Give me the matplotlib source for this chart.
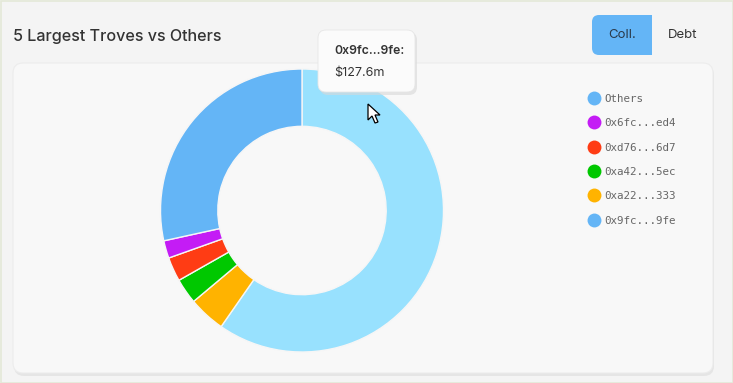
import matplotlib.pyplot as plt
from matplotlib.patches import FancyBboxPatch, Polygon, Rectangle
from matplotlib.lines import Line2D

# slices in drawing order, clockwise from 12 o'clock
labels = ["0x9fc...9fe", "0xa22...333", "0xa42...5ec", "0xd76...6d7", "0x6fc...ed4", "Others"]
values = [127.6, 9.0, 6.2, 5.9, 4.3, 60.8]  # $m
slice_colors = ["#98e1fe", "#ffb300", "#00c800", "#ff3c14", "#c41cf5", "#64b5f6"]
legend_colors = ["#64b5f6", "#ffb300", "#00c800", "#ff3c14", "#c41cf5", "#64b5f6"]

title = "5 Largest Troves vs Others"
hover_label = "0x9fc...9fe:"
hover_value = "$127.6m"

W, H = 733, 383
fig = plt.figure(figsize=(W / 100, H / 100), dpi=100)
fig.patch.set_facecolor("#f4f4f4")

# pixel-space axes for the card, buttons, legend and tooltip
bg = fig.add_axes([0, 0, 1, 1])
bg.set_xlim(0, W)
bg.set_ylim(H, 0)
bg.axis("off")

bg.add_patch(Rectangle((0.5, 0.5), W - 1, H - 1, fill=False, ec="#e4e8d8", lw=1.2))
# card shadow + card
bg.add_patch(FancyBboxPatch((14, 65), 700, 311, boxstyle="round,pad=0,rounding_size=10",
                            fc="#dcdcdc", ec="none", alpha=0.6))
bg.add_patch(FancyBboxPatch((13, 63), 700, 310, boxstyle="round,pad=0,rounding_size=10",
                            fc="#f8f8f8", ec="#ececec", lw=0.8))

bg.text(13, 36, title, fontsize=11.6, family="Inter", weight="medium", color="#333333",
        va="center", ha="left")

# toggle buttons
bg.add_patch(FancyBboxPatch((592, 15), 60, 40, boxstyle="round,pad=0,rounding_size=7",
                            fc="#64b5f6", ec="none"))
bg.add_patch(Rectangle((640, 15), 12, 40, fc="#64b5f6", ec="none"))
bg.text(622, 35, "Coll.", fontsize=9.5, family="Inter", color="#2a3a4a", ha="center", va="center")
bg.text(683, 35, "Debt", fontsize=9.5, family="Inter", color="#333333", ha="center", va="center")

# legend (top entry = last slice)
for i, k in enumerate(range(len(labels) - 1, -1, -1)):
    y = 98 + i * 24.3
    bg.add_line(Line2D([594], [y], marker="o", ms=10, color=legend_colors[k], mec="none"))
    bg.text(604, y + 1, labels[k], fontsize=7.8, family="DejaVu Sans Mono", color="#666666",
            ha="left", va="center")

# donut
cx, cy, r = 302, 210.5, 141.5
pax = fig.add_axes([(cx - r) / W, 1 - (cy + r) / H, 2 * r / W, 2 * r / H])
pax.pie(values, colors=slice_colors, startangle=90, counterclock=False,
        wedgeprops=dict(width=0.405, edgecolor="#f6f6f6", linewidth=1.0))
pax.set_xlim(-1, 1)
pax.set_ylim(-1, 1)
pax.axis("off")

# tooltip drawn above the donut
tip = fig.add_axes([0, 0, 1, 1], zorder=5)
tip.set_xlim(0, W)
tip.set_ylim(H, 0)
tip.axis("off")
tip.add_patch(FancyBboxPatch((320, 32), 97, 63, boxstyle="round,pad=0,rounding_size=8",
                             fc="#d8d8d8", ec="none", alpha=0.6))
tip.add_patch(FancyBboxPatch((318, 30), 97, 62, boxstyle="round,pad=0,rounding_size=8",
                             fc="#fbfbfb", ec="#e6e6e6", lw=0.6))
tip.text(334, 51, hover_label, fontsize=8.8, family="Inter", weight="semibold", color="#333333",
         ha="left", va="center")
tip.text(334, 73, hover_value, fontsize=9.0, family="Inter", color="#333333", ha="left", va="center")

# mouse pointer
cur = [(368, 104), (368, 120), (372, 116), (375, 123), (378, 122), (375, 115), (380, 115)]
tip.add_patch(Polygon(cur, closed=True, fc="white", ec="black", lw=0.9))

fig.savefig("out.png", dpi=100, facecolor=fig.get_facecolor())
